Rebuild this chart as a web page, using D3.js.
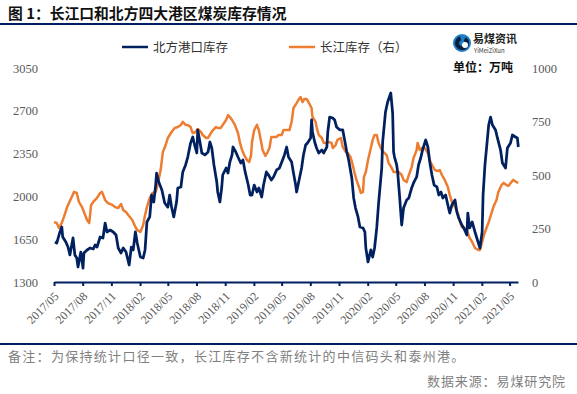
<!DOCTYPE html>
<meta charset="utf-8">
<!-- 长江口和北方四大港区煤炭库存: two lines, left and right y axes -->
<style>
  body { margin: 0; background: #fff; }
  svg text { font-family: "Noto Sans CJK SC", "Noto Sans", sans-serif; }
  .num text { font-family: "Liberation Serif", "DejaVu Serif", serif; }
</style>

<div id="chart_div"></div>

<script src="https://d3js.org/d3.v7.min.js"></script>

<script>

// tick labels
let x_ticks = ["2017/05","2017/08","2017/11","2018/02","2018/05","2018/08","2018/11",
  "2019/02","2019/05","2019/08","2019/11","2020/02","2020/05","2020/08","2020/11",
  "2021/02","2021/05"];
let left_ticks = [1300, 1650, 2000, 2350, 2700, 3050];
let right_ticks = [0, 250, 500, 750, 1000];

// 北方港口库存 (left axis, 万吨)
let north_port = [
  ["2017-05-04",1627],["2017-05-10",1619],["2017-05-20",1709],["2017-05-26",1750],["2017-05-29",1668],
  ["2017-06-08",1627],["2017-06-15",1586],["2017-06-21",1521],["2017-07-01",1660],["2017-07-07",1521],
  ["2017-07-13",1496],["2017-07-17",1423],["2017-07-26",1545],["2017-08-02",1414],["2017-08-05",1537],
  ["2017-08-15",1562],["2017-08-25",1578],["2017-09-04",1570],["2017-09-10",1603],["2017-09-16",1586],
  ["2017-09-26",1668],["2017-10-05",1660],["2017-10-12",1782],["2017-10-18",1709],["2017-10-28",1725],
  ["2017-11-07",1709],["2017-11-16",1684],["2017-11-23",1578],["2017-12-02",1537],["2017-12-09",1578],
  ["2017-12-18",1545],["2017-12-28",1439],["2018-01-04",1586],["2018-01-10",1562],["2018-01-17",1709],
  ["2018-01-23",1619],["2018-02-02",1504],["2018-02-11",1496],["2018-02-17",1562],["2018-02-23",1791],
  ["2018-03-04",1832],["2018-03-10",2011],["2018-03-17",1954],["2018-03-23",2093],["2018-03-26",2191],
  ["2018-04-02",2118],["2018-04-12",2052],["2018-04-21",1946],["2018-05-01",1913],["2018-05-07",2011],
  ["2018-05-13",1913],["2018-05-20",1832],["2018-05-29",1954],["2018-06-02",2069],["2018-06-12",2077],
  ["2018-06-18",2200],["2018-06-27",2257],["2018-07-04",2322],["2018-07-13",2437],["2018-07-20",2486],
  ["2018-07-26",2420],["2018-08-02",2355],["2018-08-05",2543],["2018-08-12",2445],["2018-08-18",2355],
  ["2018-08-28",2339],["2018-09-07",2363],["2018-09-13",2445],["2018-09-19",2396],["2018-09-26",2257],
  ["2018-10-05",2118],["2018-10-08",2036],["2018-10-15",1954],["2018-10-21",2077],["2018-10-24",2175],
  ["2018-11-04",2232],["2018-11-10",2191],["2018-11-16",2281],["2018-11-23",2339],["2018-11-26",2404],
  ["2018-12-05",2363],["2018-12-12",2322],["2018-12-21",2273],["2018-12-28",2298],["2019-01-04",2200],
  ["2019-01-14",2093],["2019-01-20",2011],["2019-01-26",2011],["2019-02-02",2093],["2019-02-11",2036],
  ["2019-02-17",2069],["2019-02-26",1995],["2019-03-04",2093],["2019-03-13",2200],["2019-03-20",2175],
  ["2019-03-29",2134],["2019-04-05",2159],["2019-04-15",2216],["2019-04-24",2232],["2019-05-04",2298],
  ["2019-05-10",2339],["2019-05-17",2404],["2019-05-23",2322],["2019-06-02",2281],["2019-06-08",2191],
  ["2019-06-15",2093],["2019-06-18",2036],["2019-06-24",2110],["2019-07-04",2232],["2019-07-10",2339],
  ["2019-07-17",2420],["2019-07-23",2437],["2019-08-02",2478],["2019-08-05",2625],["2019-08-08",2527],
  ["2019-08-15",2445],["2019-08-21",2396],["2019-08-28",2355],["2019-09-07",2380],["2019-09-13",2355],
  ["2019-09-23",2404],["2019-09-26",2527],["2019-10-02",2649],["2019-10-12",2641],["2019-10-18",2625],
  ["2019-10-24",2568],["2019-11-04",2543],["2019-11-13",2543],["2019-11-19",2461],["2019-11-26",2363],
  ["2019-12-02",2298],["2019-12-12",2151],["2019-12-18",1987],["2019-12-24",1905],["2020-01-01",1832],
  ["2020-01-07",1750],["2020-01-17",1742],["2020-01-23",1709],["2020-01-26",1578],["2020-02-02",1464],
  ["2020-02-11",1562],["2020-02-17",1504],["2020-02-23",1578],["2020-03-01",1742],["2020-03-07",1946],
  ["2020-03-17",2232],["2020-03-20",2445],["2020-03-29",2690],["2020-04-05",2772],["2020-04-15",2846],
  ["2020-04-21",2682],["2020-04-24",2363],["2020-04-27",2322],["2020-05-04",2257],["2020-05-07",2200],
  ["2020-05-13",2011],["2020-05-20",1766],["2020-05-26",1905],["2020-06-05",1971],["2020-06-12",1987],
  ["2020-06-21",2069],["2020-06-27",2110],["2020-07-07",2159],["2020-07-13",2257],["2020-07-20",2314],
  ["2020-07-26",2380],["2020-08-05",2461],["2020-08-12",2404],["2020-08-18",2281],["2020-08-25",2175],
  ["2020-09-01",2093],["2020-09-10",2077],["2020-09-16",2011],["2020-09-23",2036],["2020-09-29",1987],
  ["2020-10-08",2011],["2020-10-15",1930],["2020-10-21",1864],["2020-10-28",1930],["2020-11-07",1971],
  ["2020-11-13",1872],["2020-11-19",1823],["2020-11-29",1766],["2020-12-05",1742],["2020-12-15",1684],
  ["2020-12-18",1864],["2020-12-24",1742],["2021-01-01",1791],["2021-01-10",1709],["2021-01-20",1627],
  ["2021-01-26",1578],["2021-02-02",1709],["2021-02-05",2011],["2021-02-11",2257],["2021-02-17",2420],
  ["2021-02-23",2584],["2021-03-01",2649],["2021-03-07",2584],["2021-03-17",2543],["2021-03-23",2478],
  ["2021-04-02",2380],["2021-04-08",2273],["2021-04-18",2232],["2021-04-24",2396],["2021-05-04",2437],
  ["2021-05-10",2502],["2021-05-20",2486],["2021-05-26",2478],["2021-05-29",2404]
];

// 长江库存 (right axis, 万吨)
let yangtze = [
  ["2017-05-01",280],["2017-05-10",276],["2017-05-17",252],["2017-05-26",276],["2017-06-02",304],
  ["2017-06-12",350],["2017-06-18",369],["2017-06-27",397],["2017-07-04",421],["2017-07-13",416],
  ["2017-07-20",374],["2017-07-30",350],["2017-08-05",327],["2017-08-15",290],["2017-08-22",276],
  ["2017-08-28",360],["2017-09-04",374],["2017-09-16",393],["2017-09-26",416],["2017-10-02",421],
  ["2017-10-12",383],["2017-10-21",369],["2017-11-04",360],["2017-11-13",350],["2017-11-23",346],
  ["2017-12-02",364],["2017-12-09",336],["2017-12-18",327],["2017-12-25",313],["2018-01-07",290],
  ["2018-01-17",257],["2018-01-23",243],["2018-02-02",234],["2018-02-11",266],["2018-02-17",313],
  ["2018-02-23",350],["2018-03-04",393],["2018-03-13",416],["2018-03-23",421],["2018-03-29",453],
  ["2018-04-08",523],["2018-04-15",607],["2018-04-18",617],["2018-04-24",640],["2018-05-01",673],
  ["2018-05-13",701],["2018-05-23",720],["2018-06-02",724],["2018-06-12",734],["2018-06-18",748],
  ["2018-06-27",734],["2018-07-04",734],["2018-07-13",724],["2018-07-20",696],["2018-07-29",701],
  ["2018-08-05",715],["2018-08-15",701],["2018-08-21",687],["2018-09-01",673],["2018-09-07",673],
  ["2018-09-16",696],["2018-09-23",710],["2018-10-02",724],["2018-10-08",720],["2018-10-18",720],
  ["2018-10-24",734],["2018-11-04",757],["2018-11-10",780],["2018-11-16",771],["2018-11-23",757],
  ["2018-12-02",734],["2018-12-12",696],["2018-12-18",654],["2018-12-25",617],["2019-01-01",593],
  ["2019-01-10",570],["2019-01-17",561],["2019-01-23",593],["2019-01-26",654],["2019-02-02",710],
  ["2019-02-11",734],["2019-02-17",710],["2019-02-23",664],["2019-03-01",617],["2019-03-10",589],
  ["2019-03-17",607],["2019-03-23",626],["2019-03-29",678],["2019-04-05",678],["2019-04-15",678],
  ["2019-04-21",687],["2019-05-01",687],["2019-05-07",710],["2019-05-17",710],["2019-05-26",710],
  ["2019-06-02",748],["2019-06-08",813],["2019-06-18",836],["2019-06-24",851],["2019-07-01",864],
  ["2019-07-07",841],["2019-07-13",855],["2019-07-20",855],["2019-07-26",841],["2019-08-05",813],
  ["2019-08-08",771],["2019-08-18",748],["2019-08-21",724],["2019-08-28",687],["2019-09-07",673],
  ["2019-09-13",650],["2019-09-23",650],["2019-09-29",654],["2019-10-08",650],["2019-10-12",626],
  ["2019-10-21",640],["2019-10-27",664],["2019-11-07",673],["2019-11-13",631],["2019-11-23",607],
  ["2019-11-29",603],["2019-12-08",584],["2019-12-15",547],["2019-12-21",509],["2019-12-27",477],
  ["2020-01-04",444],["2020-01-10",416],["2020-01-17",421],["2020-01-20",491],["2020-01-26",514],
  ["2020-02-02",570],["2020-02-11",626],["2020-02-17",664],["2020-02-23",687],["2020-03-01",687],
  ["2020-03-07",650],["2020-03-17",617],["2020-03-23",607],["2020-04-02",593],["2020-04-08",556],
  ["2020-04-18",533],["2020-04-24",514],["2020-05-04",514],["2020-05-10",514],["2020-05-20",500],
  ["2020-05-26",477],["2020-06-05",467],["2020-06-12",500],["2020-06-21",537],["2020-06-27",579],
  ["2020-07-07",617],["2020-07-10",650],["2020-07-17",617],["2020-07-23",626],["2020-08-02",626],
  ["2020-08-12",603],["2020-08-18",570],["2020-08-25",547],["2020-09-04",523],["2020-09-13",519],
  ["2020-09-19",523],["2020-09-26",500],["2020-10-05",477],["2020-10-15",444],["2020-10-21",407],
  ["2020-10-28",374],["2020-11-07",350],["2020-11-16",322],["2020-11-23",280],["2020-11-29",257],
  ["2020-12-08",252],["2020-12-18",229],["2020-12-24",206],["2021-01-01",187],["2021-01-10",159],
  ["2021-01-20",150],["2021-01-26",150],["2021-02-02",187],["2021-02-08",220],["2021-02-17",257],
  ["2021-02-23",280],["2021-03-04",322],["2021-03-10",350],["2021-03-20",383],["2021-03-26",421],
  ["2021-04-05",453],["2021-04-12",463],["2021-04-21",453],["2021-04-27",449],["2021-05-07",467],
  ["2021-05-13",477],["2021-05-23",467],["2021-05-29",463]
];

let navy = "#002060", orange = "#ED7D31", grey = "#595959";
let width = 577, height = 394;
let plot = {left: 54, right: 518, top: 68, bottom: 282};

let parse_day = d3.timeParse("%Y-%m-%d");
let parse_month = d3.timeParse("%Y/%m");

let svg = d3.select("#chart_div")
  .append("svg")
    .attr("width", width)
    .attr("height", height);

// title + rules
svg.append("text")
  .attr("x", 8).attr("y", 19)
  .attr("font-size", 14.8).attr("font-weight", "bold").attr("fill", "#111")
  .text("图 1：长江口和北方四大港区煤炭库存情况");
svg.append("rect").attr("x", 0).attr("y", 23).attr("width", width).attr("height", 2).attr("fill", navy);
svg.append("rect").attr("x", 0).attr("y", 343).attr("width", width).attr("height", 2).attr("fill", navy);

// scales
let x = d3.scaleTime()
  .domain([parse_day("2017-05-01"), parse_day("2021-05-28")])
  .range([plot.left, plot.right]);
let y_left = d3.scaleLinear().domain([1300, 3050]).range([plot.bottom, plot.top]);
let y_right = d3.scaleLinear().domain([0, 1000]).range([plot.bottom, plot.top]);

// axes
let left_axis = svg.append("g")
  .attr("class", "num")
  .attr("transform", "translate(38,0)")
  .call(d3.axisLeft(y_left).tickValues(left_ticks).tickFormat(d3.format("d")).tickSize(0).tickPadding(0));
left_axis.select(".domain").remove();
left_axis.selectAll("text").attr("font-size", 12.5).attr("fill", grey);

let right_axis = svg.append("g")
  .attr("class", "num")
  .attr("transform", "translate(532,0)")
  .call(d3.axisRight(y_right).tickValues(right_ticks).tickFormat(d3.format("d")).tickSize(0).tickPadding(0));
right_axis.select(".domain").remove();
right_axis.selectAll("text").attr("font-size", 12.5).attr("fill", grey);

let x_axis = svg.append("g")
  .attr("class", "num")
  .attr("transform", "translate(0," + plot.bottom + ")")
  .call(d3.axisBottom(x)
    .tickValues(x_ticks.map(parse_month))
    .tickFormat(d3.timeFormat("%Y/%m"))
    .tickSizeOuter(0).tickSizeInner(4));
x_axis.select(".domain").attr("stroke", navy).attr("stroke-width", 2);
x_axis.selectAll(".tick line").attr("stroke", navy).attr("stroke-width", 2);
x_axis.selectAll(".tick text")
  .attr("font-size", 12).attr("fill", grey)
  .attr("text-anchor", "end")
  .attr("y", 0).attr("dy", "0.35em")
  .attr("transform", "translate(2,12) rotate(-45)");

// lines
let line_left = d3.line()
  .x(d => x(parse_day(d[0])))
  .y(d => y_left(d[1]));
let line_right = d3.line()
  .x(d => x(parse_day(d[0])))
  .y(d => y_right(d[1]));

svg.append("path")
  .datum(yangtze)
  .attr("d", line_right)
  .attr("fill", "none").attr("stroke", orange).attr("stroke-width", 2.5)
  .attr("stroke-linejoin", "round");
svg.append("path")
  .datum(north_port)
  .attr("d", line_left)
  .attr("fill", "none").attr("stroke", navy).attr("stroke-width", 2.75)
  .attr("stroke-linejoin", "round");

// legend
let legend = [
  {name: "北方港口库存", color: navy, x: 122},
  {name: "长江库存（右）", color: orange, x: 289}
];
let leg = svg.selectAll(".leg").data(legend).enter().append("g")
  .attr("transform", d => "translate(" + d.x + ",47)");
leg.append("line").attr("x1", 0).attr("x2", 26).attr("stroke", d => d.color).attr("stroke-width", 2.5);
leg.append("text").attr("x", 31).attr("dy", "0.36em")
  .attr("font-size", 12.5).attr("fill", "#333").text(d => d.name);

// logo
let logo = svg.append("g").attr("transform", "translate(462,43)");
logo.append("circle").attr("r", 9).attr("fill", "#1c7cc4");
logo.append("path")
  .attr("d", d3.arc()({innerRadius: 3, outerRadius: 7, startAngle: 0.6, endAngle: 2 * Math.PI - 0.3}))
  .attr("fill", "#0b1f3a");
logo.append("circle").attr("cx", 3).attr("cy", 2).attr("r", 3).attr("fill", "#fff");
svg.append("text").attr("x", 473).attr("y", 43)
  .attr("font-size", 11).attr("font-weight", "bold").attr("fill", "#222")
  .text("易煤资讯");
svg.append("text").attr("x", 474).attr("y", 53)
  .attr("font-size", 6).attr("fill", "#333").attr("font-family", "DejaVu Sans")
  .text("YiMeiZiXun");
svg.append("text").attr("x", 453).attr("y", 72)
  .attr("font-size", 12).attr("font-weight", "bold").attr("fill", "#111")
  .text("单位：万吨");

// footer
svg.append("text").attr("x", 8).attr("y", 361)
  .attr("font-size", 13).attr("letter-spacing", 1.3).attr("fill", "#7f7f7f")
  .text("备注：为保持统计口径一致，长江库存不含新统计的中信码头和泰州港。");
svg.append("text").attr("x", 566).attr("y", 386)
  .attr("text-anchor", "end")
  .attr("font-size", 13).attr("letter-spacing", 0.9).attr("fill", "#7f7f7f")
  .text("数据来源：易煤研究院");

</script>
